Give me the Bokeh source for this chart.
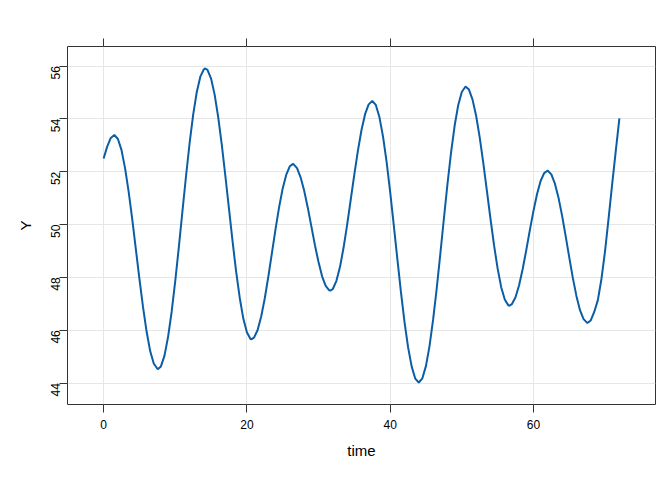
import math
from bokeh.plotting import figure
from bokeh.models import Range1d, LinearAxis, FixedTicker
from bokeh.embed import file_html
from bokeh.resources import INLINE

time = [0, 0.5, 1, 1.5, 2, 2.5, 3, 3.5, 4, 4.5, 5, 5.5, 6, 6.5, 7, 7.5, 7.6,
        8, 8.5, 9, 9.5, 10, 10.5, 11, 11.5, 12, 12.5, 13, 13.5, 14, 14.2, 14.5,
        15, 15.5, 16, 16.5, 17, 17.5, 18, 18.5, 19, 19.5, 20, 20.5, 20.65,
        21, 21.5, 22, 22.5, 23, 23.5, 24, 24.5, 25, 25.5, 26, 26.4, 26.5,
        27, 27.5, 28, 28.5, 29, 29.5, 30, 30.5, 31, 31.5, 31.65,
        32, 32.5, 33, 33.5, 34, 34.5, 35, 35.5, 36, 36.5, 37, 37.5,
        38, 38.5, 39, 39.5, 40, 40.5, 41, 41.5, 42, 42.5, 43, 43.5, 44,
        44.5, 45, 45.5, 46, 46.5, 47, 47.5, 48, 48.5, 49, 49.5, 50, 50.5, 50.55,
        51, 51.5, 52, 52.5, 53, 53.5, 54, 54.5, 55, 55.5, 56, 56.5, 56.65,
        57, 57.5, 58, 58.5, 59, 59.5, 60, 60.5, 61, 61.5, 61.95,
        62, 62.5, 63, 63.5, 64, 64.5, 65, 65.5, 66, 66.5, 67, 67.5, 67.55,
        68, 68.5, 69, 69.5, 70, 70.5, 71, 71.5, 72]
Y = [52.50, 52.95, 53.28, 53.39, 53.24, 52.82, 52.13, 51.24, 50.20, 49.07, 47.94,
     46.88, 45.95, 45.21, 44.74, 44.54, 44.53,
     44.63, 45.04, 45.75, 46.70, 47.86, 49.14, 50.49, 51.82, 53.07, 54.15, 55.01,
     55.60, 55.88, 55.91, 55.86,
     55.53, 54.92, 54.06, 53.02, 51.83, 50.60, 49.37, 48.22, 47.23, 46.44, 45.92,
     45.67, 45.66,
     45.72, 46.01, 46.52, 47.21, 48.04, 48.93, 49.83, 50.66, 51.37, 51.89, 52.21,
     52.29, 52.29,
     52.14, 51.79, 51.28, 50.64, 49.93, 49.22, 48.58, 48.04, 47.68, 47.51, 47.50,
     47.56, 47.87, 48.40, 49.13, 50.00, 50.95, 51.90, 52.80, 53.58, 54.18, 54.55,
     54.68,
     54.53, 54.07, 53.34, 52.38, 51.24, 49.99, 48.71, 47.46, 46.32, 45.36, 44.63,
     44.17, 44.02,
     44.18, 44.65, 45.41, 46.41, 47.58, 48.88, 50.22, 51.53, 52.72, 53.74, 54.52,
     55.02, 55.22, 55.22,
     55.11, 54.73, 54.12, 53.30, 52.34, 51.29, 50.23, 49.22, 48.34, 47.63, 47.16,
     46.94, 46.93,
     46.99, 47.25, 47.70, 48.32, 49.03, 49.79, 50.51, 51.15, 51.65, 51.95, 52.04,
     52.04, 51.90, 51.55, 51.02, 50.34, 49.56, 48.76, 47.98, 47.30, 46.76, 46.42,
     46.28, 46.28,
     46.37, 46.70, 47.15, 47.95, 49.00, 50.25, 51.55, 52.80, 54.02]

x_ticks = [0, 20, 40, 60]
y_ticks = [44, 46, 48, 50, 52, 54, 56]

FONT = "Liberation Sans"
FRAME = "#333333"

def padded(vals, f=0.07):
    lo, hi = min(vals), max(vals)
    d = (hi - lo) * f
    return lo - d, hi + d

xr = padded(time)
yr = padded(Y)

p = figure(width=672, height=480, output_backend="svg", toolbar_location=None,
           x_range=Range1d(*xr), y_range=Range1d(*yr),
           x_axis_location=None, y_axis_location=None,
           min_border_left=67, min_border_right=17, min_border_top=46, min_border_bottom=76)
p.background_fill_color = "white"
p.border_fill_color = "white"
p.outline_line_color = FRAME
p.outline_line_width = 1

def style_axis(ax, ticks):
    ax.ticker = FixedTicker(ticks=ticks)
    ax.axis_line_color = None
    ax.major_tick_line_color = FRAME
    ax.major_tick_in = 0
    ax.major_tick_out = 8
    ax.minor_tick_line_color = None
    ax.major_label_text_font = FONT
    ax.major_label_text_font_size = "12px"
    ax.major_label_text_color = "black"
    ax.axis_label_text_font = FONT
    ax.axis_label_text_font_style = "normal"
    ax.axis_label_text_font_size = "15px"
    ax.axis_label_text_color = "black"

bottom = LinearAxis(axis_label="time")
style_axis(bottom, x_ticks)
bottom.major_label_standoff = 7
bottom.axis_label_standoff = 10
p.add_layout(bottom, "below")

left = LinearAxis(axis_label="Y")
style_axis(left, y_ticks)
left.major_label_orientation = math.pi / 2
left.major_label_standoff = 4
left.axis_label_standoff = 10
p.add_layout(left, "left")

top = LinearAxis()
style_axis(top, x_ticks)
top.major_label_overrides = {t: "" for t in x_ticks}
p.add_layout(top, "above")

p.xgrid.ticker = FixedTicker(ticks=x_ticks)
p.ygrid.ticker = FixedTicker(ticks=y_ticks)
p.xgrid.grid_line_color = "#E6E6E6"
p.ygrid.grid_line_color = "#E6E6E6"
p.xgrid.grid_line_width = 1
p.ygrid.grid_line_width = 1

p.line(time, Y, line_color="#0B5EA5", line_width=2)

open("out.html", "w").write(file_html(p, INLINE))
